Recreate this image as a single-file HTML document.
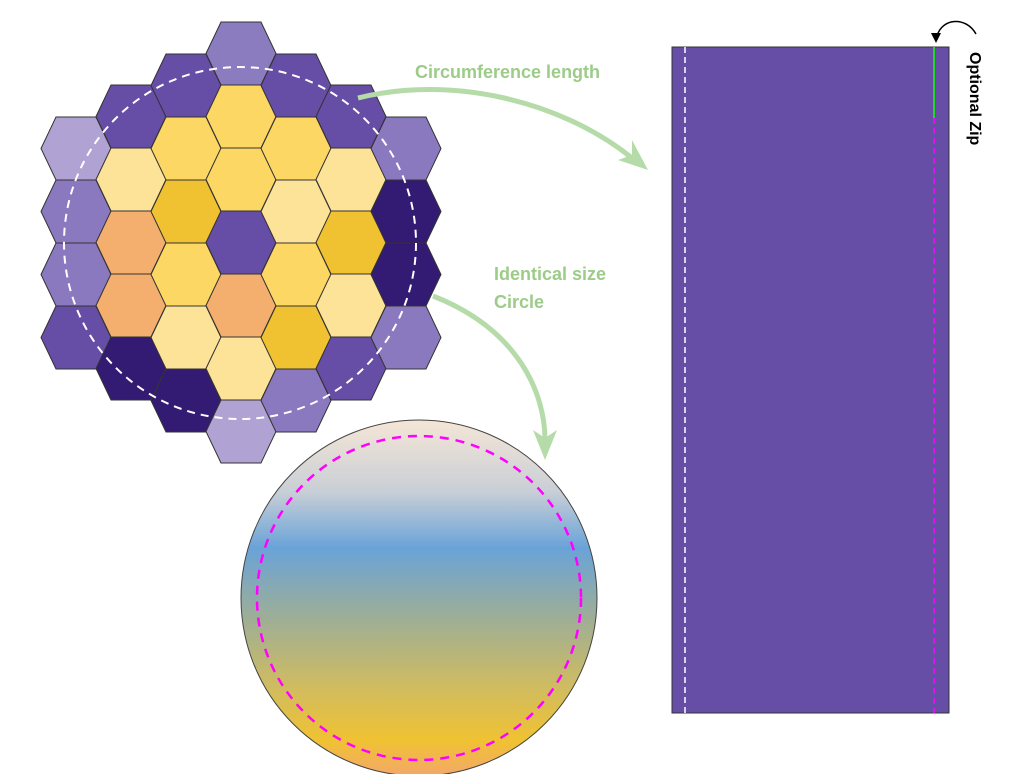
<!DOCTYPE html>
<html><head><meta charset="utf-8"><style>html,body{margin:0;padding:0;background:#fff}svg{display:block}</style></head>
<body>
<svg width="1023" height="774" viewBox="0 0 1023 774" xmlns="http://www.w3.org/2000/svg" xmlns:xlink="http://www.w3.org/1999/xlink">
<defs>
<linearGradient id="g" x1="0" y1="0" x2="0" y2="1">
<stop offset="0" stop-color="#f5e6d6"/>
<stop offset="0.2" stop-color="#c9cfd6"/>
<stop offset="0.36" stop-color="#6aa3d8"/>
<stop offset="0.55" stop-color="#9cae98"/>
<stop offset="0.75" stop-color="#d0bc60"/>
<stop offset="0.9" stop-color="#f0c232"/>
<stop offset="1" stop-color="#f3a86a"/>
</linearGradient>
<polygon id="h" points="-35,0 -20,-31.5 20,-31.5 35,0 20,31.5 -20,31.5" stroke="#333" stroke-width="1"/>
</defs>
<use href="#h" xlink:href="#h" x="76" y="148.5" fill="#b0a3d3"/>
<use href="#h" xlink:href="#h" x="76" y="211.5" fill="#8b79c0"/>
<use href="#h" xlink:href="#h" x="76" y="274.5" fill="#8b79c0"/>
<use href="#h" xlink:href="#h" x="76" y="337.5" fill="#664da6"/>
<use href="#h" xlink:href="#h" x="131" y="116.5" fill="#664da6"/>
<use href="#h" xlink:href="#h" x="131" y="179.5" fill="#fde398"/>
<use href="#h" xlink:href="#h" x="131" y="242.5" fill="#f4af6e"/>
<use href="#h" xlink:href="#h" x="131" y="305.5" fill="#f4af6e"/>
<use href="#h" xlink:href="#h" x="131" y="368.5" fill="#331a72"/>
<use href="#h" xlink:href="#h" x="186" y="85.5" fill="#664da6"/>
<use href="#h" xlink:href="#h" x="186" y="148.5" fill="#fcd764"/>
<use href="#h" xlink:href="#h" x="186" y="211.5" fill="#f0c232"/>
<use href="#h" xlink:href="#h" x="186" y="274.5" fill="#fcd764"/>
<use href="#h" xlink:href="#h" x="186" y="337.5" fill="#fde398"/>
<use href="#h" xlink:href="#h" x="186" y="400.5" fill="#331a72"/>
<use href="#h" xlink:href="#h" x="241" y="53.5" fill="#8b7bbf"/>
<use href="#h" xlink:href="#h" x="241" y="116.5" fill="#fcd764"/>
<use href="#h" xlink:href="#h" x="241" y="179.5" fill="#fcd764"/>
<use href="#h" xlink:href="#h" x="241" y="242.5" fill="#664da6"/>
<use href="#h" xlink:href="#h" x="241" y="305.5" fill="#f4af6e"/>
<use href="#h" xlink:href="#h" x="241" y="368.5" fill="#fde398"/>
<use href="#h" xlink:href="#h" x="241" y="431.5" fill="#b0a3d3"/>
<use href="#h" xlink:href="#h" x="296" y="85.5" fill="#664da6"/>
<use href="#h" xlink:href="#h" x="296" y="148.5" fill="#fcd764"/>
<use href="#h" xlink:href="#h" x="296" y="211.5" fill="#fde398"/>
<use href="#h" xlink:href="#h" x="296" y="274.5" fill="#fcd764"/>
<use href="#h" xlink:href="#h" x="296" y="337.5" fill="#f0c232"/>
<use href="#h" xlink:href="#h" x="296" y="400.5" fill="#8b79c0"/>
<use href="#h" xlink:href="#h" x="351" y="116.5" fill="#664da6"/>
<use href="#h" xlink:href="#h" x="351" y="179.5" fill="#fde398"/>
<use href="#h" xlink:href="#h" x="351" y="242.5" fill="#f0c232"/>
<use href="#h" xlink:href="#h" x="351" y="305.5" fill="#fde398"/>
<use href="#h" xlink:href="#h" x="351" y="368.5" fill="#664da6"/>
<use href="#h" xlink:href="#h" x="406" y="148.5" fill="#8b79c0"/>
<use href="#h" xlink:href="#h" x="406" y="211.5" fill="#331a72"/>
<use href="#h" xlink:href="#h" x="406" y="274.5" fill="#331a72"/>
<use href="#h" xlink:href="#h" x="406" y="337.5" fill="#8b79c0"/>

<circle cx="240" cy="243" r="176" fill="none" stroke="#fff" stroke-width="2" stroke-dasharray="8,6"/>
<circle cx="419" cy="598" r="178" fill="url(#g)" stroke="#444" stroke-width="1"/>
<circle cx="419" cy="598" r="162" fill="none" stroke="#f0f" stroke-width="2.5" stroke-dasharray="9,7"/>
<rect x="672" y="47" width="277" height="666" fill="#664da6" stroke="#333" stroke-width="1"/>
<line x1="685" y1="47" x2="685" y2="713" stroke="#fff" stroke-width="1.5" stroke-dasharray="6,4"/>
<line x1="934" y1="118" x2="934" y2="713" stroke="#f0f" stroke-width="1.5" stroke-dasharray="6,4"/>
<line x1="934" y1="47" x2="934" y2="118" stroke="#22d822" stroke-width="2"/>
<path d="M976,34 C966,16 942,18 937,36" fill="none" stroke="#000" stroke-width="1.5"/>
<path d="M931,33 L936,43 L941,33 Z" fill="#000"/>
<text x="0" y="0" transform="translate(970,52) rotate(90)" font-family="Liberation Sans, sans-serif" font-weight="bold" font-size="16" fill="#000">Optional Zip</text>
<path d="M358,98 C450,75 560,100 632,158" fill="none" stroke="#b5dba8" stroke-width="5"/>
<path d="M648,170 L618,160 L632,155 L632,140 Z" fill="#b5dba8"/>
<path d="M433,296 C520,330 545,395 545,440" fill="none" stroke="#b5dba8" stroke-width="5"/>
<path d="M545,460 L533,430 L545,438 L557,430 Z" fill="#b5dba8"/>
<g font-family="Liberation Sans, sans-serif" font-size="18" font-weight="bold" fill="#9ccc88">
<text x="415" y="78">Circumference length</text>
<text x="494" y="280">Identical size</text>
<text x="494" y="308">Circle</text>
</g>
</svg>
</body></html>
